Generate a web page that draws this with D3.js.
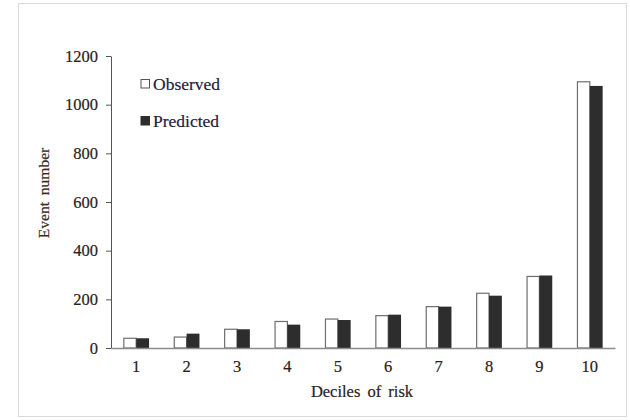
<!DOCTYPE html>
<html><head><meta charset="utf-8">
<script src="https://cdn.jsdelivr.net/npm/d3@7"></script>
<style>body{margin:0;background:#fff;} text{font-family:"Liberation Serif","Times New Roman",serif;}</style>
</head><body><svg id="c" width="630" height="420"></svg>
<script>
const categories = ["1","2","3","4","5","6","7","8","9","10"];
const observed = [40, 45, 77, 109, 119, 133, 170, 225, 294, 1094];
const predicted = [40, 59, 77, 96, 115, 137, 170, 215, 298, 1077];
const yTicks = [0, 200, 400, 600, 800, 1000, 1200];
const seriesNames = ["Observed", "Predicted"];

const svg = d3.select("#c");
svg.append("rect").attr("x",18.5).attr("y",3.5).attr("width",608).attr("height",413)
  .attr("fill","#fff").attr("stroke","#d9d9d9").attr("stroke-width",1);

const m = {left:111, right:615, top:56, bottom:348};
const x = d3.scaleBand().domain(categories).range([m.left, m.right]).paddingInner(0.49).paddingOuter(0.245);
const y = d3.scaleLinear().domain([0,1200]).range([m.bottom, m.top]);
const textColor = "#2b211c";

// y axis
const ya = svg.append("g").attr("transform",`translate(${m.left},0)`)
  .call(d3.axisLeft(y).tickValues(yTicks).tickSize(5).tickSizeOuter(0).tickFormat(d3.format("d")));
ya.select(".domain").attr("stroke","#555");
ya.selectAll(".tick line").attr("stroke","#555");
ya.selectAll("text").attr("font-size",16.5).attr("fill",textColor).attr("x",-13)
  .attr("stroke",textColor).attr("stroke-width",0.2);

const data = categories.map((c,i)=>({c, o:observed[i], p:predicted[i]}));
const bw = x.bandwidth();
const g = svg.append("g");
g.selectAll(".obs").data(data).join("rect")
  .attr("x", d=>x(d.c)+0.5).attr("width", bw/2-0.5)
  .attr("y", d=>y(d.o)).attr("height", d=>y(0)-y(d.o))
  .attr("fill","#fff").attr("stroke","#6e6e6e").attr("stroke-width",1.2);
g.selectAll(".pred").data(data).join("rect")
  .attr("x", d=>x(d.c)+bw/2).attr("width", bw/2)
  .attr("y", d=>y(d.p)).attr("height", d=>y(0)-y(d.p))
  .attr("fill","#2d2d2d");

// x axis
const xa = svg.append("g").attr("transform",`translate(0,${m.bottom})`)
  .call(d3.axisBottom(x).tickSize(0).tickPadding(12));
xa.select(".domain").attr("stroke","#8c8c8c").attr("stroke-width",1.5);
xa.selectAll("text").attr("font-size",16.5).attr("fill",textColor)
  .attr("stroke",textColor).attr("stroke-width",0.2);

// titles
svg.append("text").attr("x",362).attr("y",397).attr("text-anchor","middle")
  .attr("font-size",16.5).attr("fill",textColor).attr("stroke",textColor).attr("stroke-width",0.2)
  .attr("word-spacing","3px").text("Deciles  of risk");
svg.append("text").attr("transform","translate(49,193) rotate(-90)").attr("text-anchor","middle")
  .attr("font-size",15.5).attr("fill","#3a2a26").attr("stroke","#3a2a26").attr("stroke-width",0.2)
  .attr("word-spacing","3px").text("Event  number");

// legend
const lg = svg.append("g");
const legendY = [84, 121];
seriesNames.forEach((n,i)=>{
  lg.append("rect").attr("x",141).attr("y",legendY[i]-4.5).attr("width",8.5).attr("height",8.5)
    .attr("fill", i===0?"#fff":"#2d2d2d").attr("stroke", i===0?"#555":"#2d2d2d").attr("stroke-width",1);
  lg.append("text").attr("x",153).attr("y",legendY[i]+5.5).attr("font-size",17.5).attr("fill","#1f1b3a")
    .attr("stroke","#1f1b3a").attr("stroke-width",0.2).text(n);
});
</script></body></html>
